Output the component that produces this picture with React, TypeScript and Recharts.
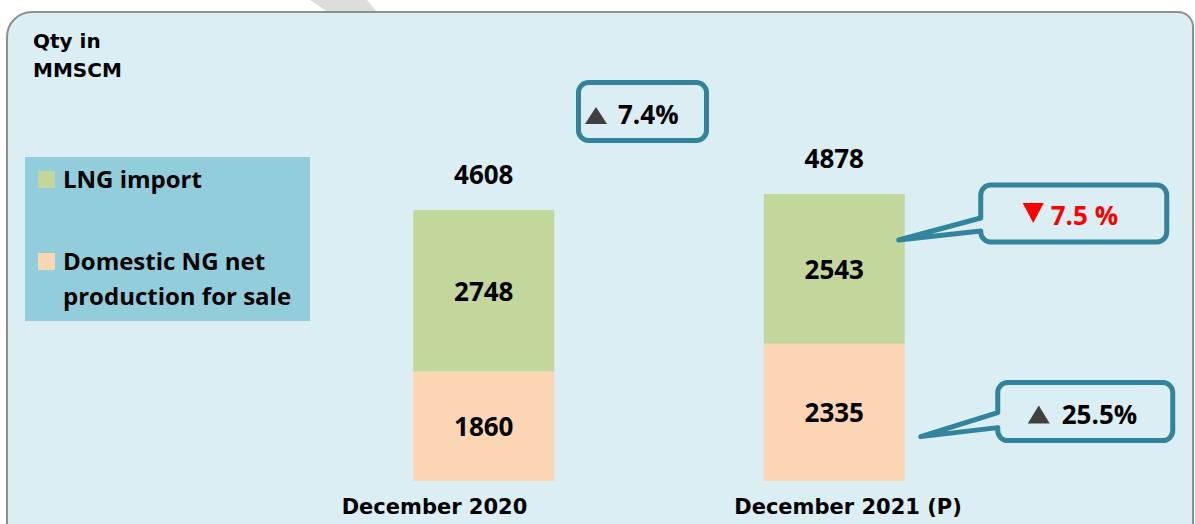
import React from 'react';
import { BarChart, Bar, XAxis, YAxis, LabelList, Legend } from 'recharts';

const categories = ['December 2020', 'December 2021 (P)'];
const domesticValues = [1860, 2335];
const lngValues = [2748, 2543];
const totalValues = [4608, 4878];
const totalChangeText = '7.4%';
const lngChangeText = '7.5 %';
const domesticChangeText = '25.5%';
const yDomain = [0, 6000];
const seriesNames = { lng: 'LNG import', domestic: 'Domestic NG net production for sale' };

const data = categories.map((name, i) => ({
  name,
  domestic: domesticValues[i],
  lng: lngValues[i],
  total: totalValues[i],
}));

const GREEN = '#C3D69B';
const PEACH = '#FCD5B5';
const PANEL = '#DAEEF3';
const LEGEND_BG = '#92CDDC';
const TEAL = '#31849B';
const NUM_FONT = "'Open Sans', 'Noto Sans', sans-serif";
const GOTHIC_FONT = "'DejaVu Sans', sans-serif";
const TICK_SHIFT = [-49, 14];

function calloutPath(bx: number, by: number, bw: number, bh: number, r: number, ta: number, tb: number, tx: number, ty: number) {
  return `M ${bx + r} ${by} H ${bx + bw - r} A ${r} ${r} 0 0 1 ${bx + bw} ${by + r} V ${by + bh - r} A ${r} ${r} 0 0 1 ${bx + bw - r} ${by + bh} H ${bx + r} A ${r} ${r} 0 0 1 ${bx} ${by + bh - r} V ${tb} L ${tx} ${ty} L ${bx} ${ta} V ${by + r} A ${r} ${r} 0 0 1 ${bx + r} ${by} Z`;
}

function getBox(props: any) {
  const vb = props.viewBox || {};
  const x = Number(props.x ?? vb.x);
  const y = Number(props.y ?? vb.y);
  const width = Number(props.width ?? vb.width);
  const height = Number(props.height ?? vb.height);
  return { x, y, width, height };
}

const numStyle = { fontFamily: NUM_FONT, fontWeight: 700, fontSize: 26, fill: '#000' } as const;

const LngLabel = (props: any) => {
  const { x, y, width, height } = getBox(props);
  const index = props.index;
  const cx = x + width / 2;
  let callout = null;
  if (index === 1) {
    const bx = x + width + 76;
    const by = y - 9;
    callout = (
      <g>
        <path
          d={calloutPath(bx, by, 186, 57, 10, y + 24, y + 37, x + width - 6, y + 46)}
          fill={PANEL}
          stroke={TEAL}
          strokeWidth={5}
          strokeLinejoin="round"
        />
        <polygon points={`${bx + 42},${by + 18} ${bx + 63},${by + 18} ${bx + 52.5},${by + 38}`} fill="#FF0000" />
        <text x={bx + 70} y={by + 40} style={{ ...numStyle, fill: '#FF0000' }}>{lngChangeText}</text>
      </g>
    );
  }
  return (
    <g>
      <text x={cx} y={y + height / 2 + 10} textAnchor="middle" style={numStyle}>{props.value}</text>
      <text x={cx} y={y - 26} textAnchor="middle" style={numStyle}>{totalValues[index]}</text>
      {callout}
    </g>
  );
};

const DomesticLabel = (props: any) => {
  const { x, y, width, height } = getBox(props);
  const index = props.index;
  const cx = x + width / 2;
  let callout = null;
  if (index === 1) {
    const bx = x + width + 93;
    const by = y + 39;
    callout = (
      <g>
        <path
          d={calloutPath(bx, by, 175, 58, 10, y + 69, y + 84, x + width + 16, y + 93)}
          fill={PANEL}
          stroke={TEAL}
          strokeWidth={5}
          strokeLinejoin="round"
        />
        <polygon points={`${bx + 30},${by + 41} ${bx + 52},${by + 41} ${bx + 41},${by + 23}`} fill="#404040" />
        <text x={bx + 64} y={by + 41} style={numStyle}>{domesticChangeText}</text>
      </g>
    );
  }
  return (
    <g>
      <text x={cx} y={y + height / 2 + 10} textAnchor="middle" style={numStyle}>{props.value}</text>
      {callout}
    </g>
  );
};

const AxisTick = (props: any) => {
  const { x, y, payload } = props;
  const idx = payload.index ?? categories.indexOf(payload.value);
  return (
    <text x={x + (TICK_SHIFT[idx] || 0)} y={y} dy={25} textAnchor="middle" style={{ fontFamily: GOTHIC_FONT, fontWeight: 700, fontSize: 21, fill: '#000' }}>
      {payload.value}
    </text>
  );
};

const LegendContent = (props: any) => {
  const payload = (props.payload || []).slice().reverse();
  const txt = { fontFamily: NUM_FONT, fontWeight: 700, fontSize: 24, fill: '#000' } as const;
  return (
    <svg width={285} height={164} style={{ display: 'block' }}>
      <rect x={0} y={0} width={285} height={164} fill={LEGEND_BG} />
      {payload.map((p: any, i: number) => {
        const top = i === 0 ? 14 : 96;
        const name = seriesNames[p.dataKey as 'lng' | 'domestic'] || p.value;
        const lines = i === 0 ? [name] : ['Domestic NG net', 'production for sale'];
        return (
          <g key={i}>
            <rect x={13} y={top} width={17} height={17} fill={p.color} />
            {lines.map((l: string, j: number) => (
              <text key={j} x={38} y={top + 17 + j * 35} style={txt}>{l}</text>
            ))}
          </g>
        );
      })}
    </svg>
  );
};

export default function App() {
  return (
    <div style={{ position: 'absolute', left: 0, top: 0, width: 1195, height: 524, background: '#fff', overflow: 'hidden' }}>
      <svg width={1195} height={524} style={{ position: 'absolute', left: 0, top: 0 }}>
        <polygon points="310,0 367,0 377,12 328,12" fill="#DDDDDD" />
        <path d="M 7 540 V 37 A 25 25 0 0 1 32 12 H 1178 A 15 15 0 0 1 1193 27 V 540" fill={PANEL} stroke="#8F8F8F" strokeWidth={2} />
        <text x={33} y={48} style={{ fontFamily: GOTHIC_FONT, fontWeight: 700, fontSize: 20, fill: '#000' }}>Qty in</text>
        <text x={33} y={77} style={{ fontFamily: GOTHIC_FONT, fontWeight: 700, fontSize: 20, fill: '#000' }}>MMSCM</text>
        <rect x={578.5} y={82.5} width={128} height={58} rx={10} fill={PANEL} stroke={TEAL} strokeWidth={5} />
        <polygon points="585,124 607,124 596,107" fill="#404040" />
        <text x={618} y={124} style={numStyle}>{totalChangeText}</text>
      </svg>
      <div style={{ position: 'absolute', left: 0, top: 0 }}>
        <BarChart
          width={1195}
          height={524}
          data={data}
          margin={{ top: 128, right: 185.75, bottom: 13, left: 308.25 }}
        >
          <XAxis dataKey="name" axisLine={false} tickLine={false} height={30} tick={<AxisTick />} interval={0} />
          <YAxis hide domain={yDomain} />
          <Legend
            layout="horizontal"
            verticalAlign="middle"
            align="center"
            width={285}
            height={164}
            wrapperStyle={{ left: 25, top: 157, width: 285, height: 164 }}
            content={<LegendContent />}
          />
          <Bar dataKey="domestic" name={seriesNames.domestic} stackId="a" fill={PEACH} barSize={141} isAnimationActive={false}>
            <LabelList dataKey="domestic" content={<DomesticLabel />} />
          </Bar>
          <Bar dataKey="lng" name={seriesNames.lng} stackId="a" fill={GREEN} barSize={141} isAnimationActive={false}>
            <LabelList dataKey="lng" content={<LngLabel />} />
          </Bar>
        </BarChart>
      </div>
    </div>
  );
}
